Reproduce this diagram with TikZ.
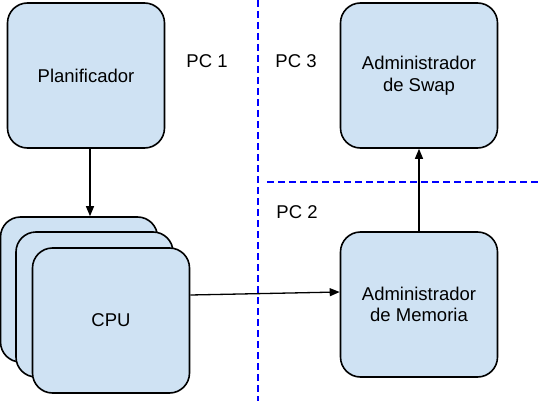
\documentclass[tikz,border=0pt]{standalone}
\usepackage{fontspec}
\setmainfont{Liberation Sans}
\usetikzlibrary{arrows.meta,positioning}
\definecolor{boxblue}{HTML}{CFE2F3}

\begin{document}
\begin{tikzpicture}[x=1pt,y=-1pt,
    block/.style={rectangle,rounded corners=20pt,draw,line width=1.6pt,fill=boxblue,minimum width=157pt,minimum height=145pt,align=center,font=\fontsize{18.5}{21.5}\selectfont},
    label/.style={font=\fontsize{18.5}{21.5}\selectfont},
    arrow/.style={-{Triangle[length=10pt,width=8pt]},line width=1.3pt},
    divider/.style={blue,line width=1.6pt,dash pattern=on 7pt off 4pt}
]
\useasboundingbox (0,0) rectangle (540,401);

% === PC 1: scheduler and CPUs ===
\node[block] (plan) at (86,75.5) {Planificador};
\node[block] (cpu1) at (79,289.5) {};
\node[block] (cpu2) at (94.5,304.5) {};
\node[block] (cpu3) at (111,320.5) {CPU};

% === PC 3 / PC 2: swap and memory ===
\node[block] (swap) at (419,75.5) {Administrador\\de Swap};
\node[block] (mem) at (419,304.5) {Administrador\\de Memoria};

% === Machine boundaries ===
\draw[divider] (258,0) -- (258,401);
\draw[divider] (267,182) -- (540,182);

\node[label] (pc1) at (207,61) {PC 1};
\node[label] (pc3) at (296,61) {PC 3};
\node[label] (pc2) at (297,212) {PC 2};

% === Arrows ===
\draw[arrow] ([xshift=4pt]plan.south) -- ([xshift=4pt]plan.south |- cpu1.north);
\draw[arrow] ([yshift=25.5pt]cpu3.east) -- ([yshift=12.5pt]mem.west);
\draw[arrow] (mem.north) -- (swap.south);

\end{tikzpicture}
\end{document}
